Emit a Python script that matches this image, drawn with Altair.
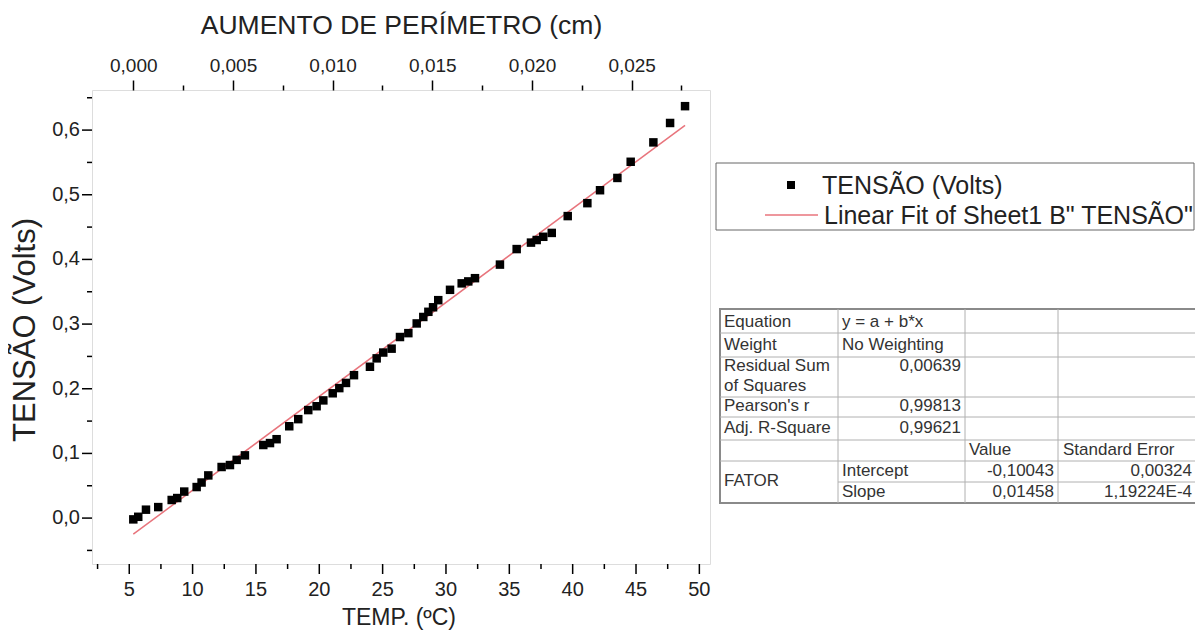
import altair as alt
import pandas as pd

# ---------------- data ----------------
temp = [5.32, 5.71, 6.32, 7.29, 8.35, 8.79, 9.34, 10.32, 10.71, 11.24, 12.29, 12.95,
        13.48, 14.13, 15.58, 16.11, 16.63, 17.63, 18.34, 19.13, 19.79, 20.32, 21.06,
        21.58, 22.11, 22.74, 24.00, 24.53, 25.05, 25.71, 26.37, 27.03, 27.69, 28.21,
        28.61, 28.98, 29.39, 30.32, 31.24, 31.76, 32.29, 34.26, 35.58, 36.71, 37.16,
        37.68, 38.35, 39.61, 41.16, 42.16, 43.53, 44.58, 46.37, 47.69, 48.87]
tensao = [-0.002, 0.002, 0.013, 0.017, 0.028, 0.031, 0.041, 0.048, 0.055, 0.066, 0.079, 0.082,
          0.090, 0.097, 0.113, 0.116, 0.122, 0.142, 0.153, 0.167, 0.173, 0.182, 0.193,
          0.201, 0.209, 0.221, 0.234, 0.247, 0.256, 0.262, 0.280, 0.286, 0.301, 0.311,
          0.319, 0.326, 0.337, 0.353, 0.363, 0.366, 0.371, 0.392, 0.416, 0.426, 0.430,
          0.435, 0.441, 0.467, 0.487, 0.507, 0.526, 0.551, 0.581, 0.611, 0.637]

x_domain = [2.06, 50.84]
y_domain = [-0.071, 0.662]
perim_domain = [-0.00207, 0.02893]

x_major = [5, 10, 15, 20, 25, 30, 35, 40, 45, 50]
x_labels = ["5", "10", "15", "20", "25", "30", "35", "40", "45", "50"]
x_minor = [2.5, 7.5, 12.5, 17.5, 22.5, 27.5, 32.5, 37.5, 42.5, 47.5]
y_major = [0.0, 0.1, 0.2, 0.3, 0.4, 0.5, 0.6]
y_labels = ["0,0", "0,1", "0,2", "0,3", "0,4", "0,5", "0,6"]
y_minor = [-0.05, 0.05, 0.15, 0.25, 0.35, 0.45, 0.55, 0.65]
perim_ticks = [0.0, 0.0025, 0.005, 0.0075, 0.01, 0.0125, 0.015, 0.0175, 0.02, 0.0225, 0.025, 0.0275]

x_title = "TEMP. (ºC)"
y_title = "TENSÃO (Volts)"
top_title = "AUMENTO DE PERÍMETRO (cm)"
legend_labels = ["TENSÃO (Volts)", 'Linear Fit of Sheet1 B" TENSÃO"']

table_left_text = ["Equation", "y = a + b*x", "Weight", "No Weighting", "Residual Sum",
                   "of Squares", "Pearson's r", "Adj. R-Square", "Value", "Standard Error",
                   "FATOR", "Intercept", "Slope"]
table_right_text = ["0,00639", "0,99813", "0,99621", "-0,10043", "0,00324", "0,01458",
                    "1,19224E-4"]

# ---------------- layout (pixel positions, page coords) ----------------
PX0, PY0 = 92, 90          # plot origin on the page
W, H = 618, 474
FONT = "Liberation Sans"
TXT = "#222222"
TICK_MAJ, TICK_MIN = 10, 5

def vx(p):
    return p - PX0

def vy(p):
    return p - PY0

df = pd.DataFrame({"temp": temp, "tensao": tensao})

xscale = alt.Scale(domain=x_domain, nice=False, zero=False)
yscale = alt.Scale(domain=y_domain, nice=False, zero=False)

points = alt.Chart(df).mark_square(size=72, color="black", opacity=1).encode(
    x=alt.X("temp:Q", scale=xscale, axis=None),
    y=alt.Y("tensao:Q", scale=yscale, axis=None),
)
fit = alt.Chart(df).transform_regression("temp", "tensao", method="linear").mark_line(
    color="#e8747c", strokeWidth=1.5
).encode(
    x=alt.X("temp:Q", scale=xscale, axis=None),
    y=alt.Y("tensao:Q", scale=yscale, axis=None),
)

# bottom / left axes (ticks + labels through the scales)
def xticks(vals, size):
    return alt.Chart(pd.DataFrame({"v": vals})).mark_rule(color="black", strokeWidth=1.5).encode(
        x=alt.X("v:Q", scale=xscale, axis=None),
        y=alt.value(H), y2=alt.value(H + size))

def yticks(vals, size):
    return alt.Chart(pd.DataFrame({"v": vals})).mark_rule(color="black", strokeWidth=1.5).encode(
        y=alt.Y("v:Q", scale=yscale, axis=None),
        x=alt.value(0), x2=alt.value(-size))

xlab = alt.Chart(pd.DataFrame({"v": x_major, "t": x_labels})).mark_text(
    font=FONT, fontSize=20, color=TXT, align="center", baseline="middle"
).encode(x=alt.X("v:Q", scale=xscale, axis=None), y=alt.value(H + 26), text="t:N")
ylab = alt.Chart(pd.DataFrame({"v": y_major, "t": y_labels})).mark_text(
    font=FONT, fontSize=20, color=TXT, align="right", baseline="middle"
).encode(y=alt.Y("v:Q", scale=yscale, axis=None), x=alt.value(-12), text="t:N")

base = alt.layer(fit, points, xticks(x_major, TICK_MAJ), xticks(x_minor, TICK_MIN),
                 yticks(y_major, TICK_MAJ), yticks(y_minor, TICK_MIN), xlab, ylab)

top_axis = alt.Axis(
    orient="top", values=perim_ticks, title=top_title,
    labelExpr="round(datum.value*10000) % 50 == 0 ? replace(format(datum.value, '.3f'), '.', ',') : ''",
    tickSize={"condition": {"test": "round(datum.value*10000) % 50 != 0", "value": TICK_MIN}, "value": TICK_MAJ},
    grid=False, domain=False, tickColor="black", tickWidth=1.5,
    labelFontSize=19, titleFontSize=26.5, titleFontWeight="normal",
    labelPadding=5, titlePadding=17, labelFont=FONT, titleFont=FONT,
    labelColor=TXT, titleColor=TXT,
)
top_df = pd.DataFrame({"perim": perim_domain})
top = alt.Chart(top_df).mark_point(opacity=0).encode(
    x=alt.X("perim:Q", scale=alt.Scale(domain=perim_domain, nice=False, zero=False), axis=top_axis),
    y=alt.value(0),
)

main = alt.layer(base, top).resolve_scale(x="independent")

one = pd.DataFrame({"a": [0]})

# axis titles (drawn)
xtitle = alt.Chart(one).mark_text(text=x_title, font=FONT, fontSize=23, color=TXT,
                                  align="center", baseline="middle").encode(
    x=alt.value(vx(399)), y=alt.value(vy(618)))
ytitle = alt.Chart(one).mark_text(text=y_title, font=FONT, fontSize=31, color=TXT, angle=270,
                                  align="center", baseline="middle").encode(
    x=alt.value(vx(26)), y=alt.value(vy(330)))

# ---------------- legend (drawn) ----------------
leg_box = alt.Chart(one).mark_rect(fill="white", stroke="#666666", strokeWidth=1).encode(
    x=alt.value(vx(716)), x2=alt.value(vx(1194)), y=alt.value(vy(163)), y2=alt.value(vy(230)))
leg_sym = alt.Chart(one).mark_square(size=64, color="black", opacity=1).encode(
    x=alt.value(vx(791)), y=alt.value(vy(185)))
leg_line = alt.Chart(one).mark_rule(color="#e8747c", strokeWidth=1.5).encode(
    x=alt.value(vx(765)), x2=alt.value(vx(818)), y=alt.value(vy(215)))
leg_text = alt.Chart(pd.DataFrame({
    "label": legend_labels,
    "px": [vx(822), vx(824)],
    "py": [vy(186), vy(216)],
})).mark_text(align="left", baseline="middle", font=FONT, fontSize=25, color=TXT).encode(
    x=alt.X("px:Q", scale=None), y=alt.Y("py:Q", scale=None), text="label:N")

# ---------------- fit table (drawn) ----------------
h_lines = [333, 357, 397, 417, 440, 461]
rules_df = pd.DataFrame(
    [{"x": vx(720), "x2": vx(1196), "y": vy(h), "y2": vy(h)} for h in h_lines]
    + [{"x": vx(838), "x2": vx(1196), "y": vy(482), "y2": vy(482)}]
    + [{"x": vx(v), "x2": vx(v), "y": vy(309), "y2": vy(503)} for v in [838, 965, 1058]]
)
tbl_box = alt.Chart(one).mark_rect(fill="white", stroke="#8a8a8a", strokeWidth=2).encode(
    x=alt.value(vx(720)), x2=alt.value(vx(1196)), y=alt.value(vy(309)), y2=alt.value(vy(503)))
tbl_rules = alt.Chart(rules_df).mark_rule(color="#b0b0b0", strokeWidth=1).encode(
    x=alt.X("x:Q", scale=None), x2="x2:Q", y=alt.Y("y:Q", scale=None), y2="y2:Q")

left_px = [724, 842, 724, 842, 724, 724, 724, 724, 969, 1063, 724, 842, 842]
left_py = [322, 322, 345, 345, 366, 386, 406, 428, 450, 450, 481, 471, 492]
right_px = [961, 961, 961, 1054, 1192, 1054, 1192]
right_py = [366, 406, 428, 471, 471, 492, 492]

tbl_left = alt.Chart(pd.DataFrame({
    "t": table_left_text, "px": [vx(p) for p in left_px], "py": [vy(p) for p in left_py]
})).mark_text(align="left", baseline="middle", font=FONT, fontSize=17, color="#333333").encode(
    x=alt.X("px:Q", scale=None), y=alt.Y("py:Q", scale=None), text="t:N")
tbl_right = alt.Chart(pd.DataFrame({
    "t": table_right_text, "px": [vx(p) for p in right_px], "py": [vy(p) for p in right_py]
})).mark_text(align="right", baseline="middle", font=FONT, fontSize=17, color="#333333").encode(
    x=alt.X("px:Q", scale=None), y=alt.Y("py:Q", scale=None), text="t:N")

chart = alt.layer(
    main, xtitle, ytitle, leg_box, leg_sym, leg_line, leg_text,
    tbl_box, tbl_rules, tbl_left, tbl_right
).properties(
    width=W, height=H,
    autosize=alt.AutoSizeParams(type="none"),
    padding={"left": PX0 - 8, "top": PY0 - 8, "right": 1187 - (PX0 - 8) - W, "bottom": 623 - (PY0 - 8) - H},
).configure_view(
    stroke="black", strokeWidth=1.5
).configure(background="white")

chart.save("out.html", embed_options={"renderer": "svg", "actions": False})
